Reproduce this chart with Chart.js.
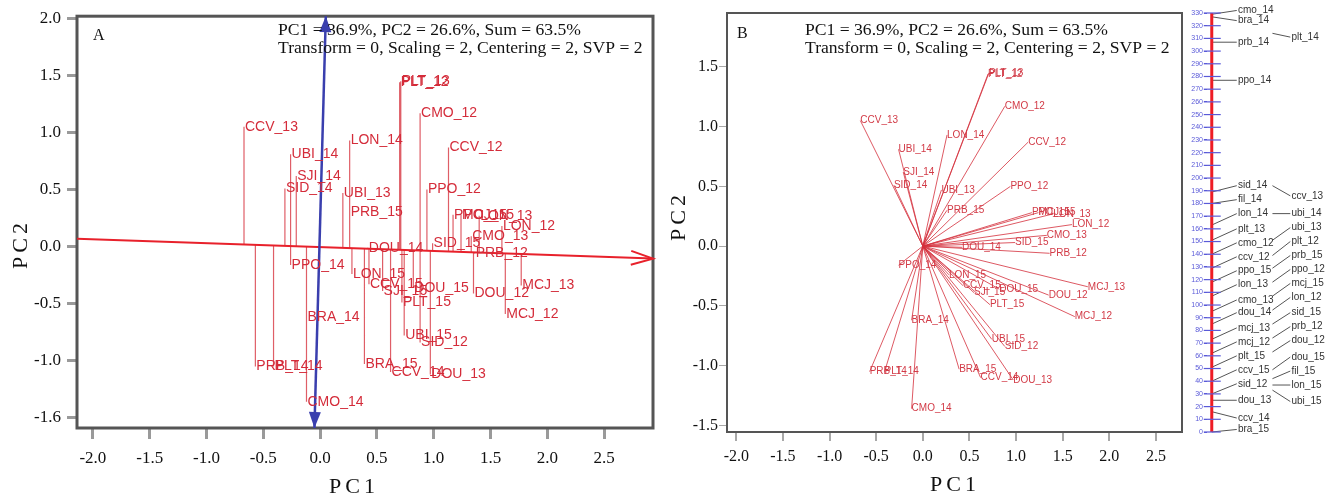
<!DOCTYPE html>
<html>
<head>
<meta charset="utf-8">
<script src="https://cdn.jsdelivr.net/npm/chart.js@4.4.1/dist/chart.umd.min.js"></script>
<style>
  html, body { margin: 0; padding: 0; background: #fff; }
  body { width: 1326px; height: 497px; position: relative; overflow: hidden; }
  canvas { position: absolute; top: 0; }
  #chart-a { left: 0; }
  #chart-b { left: 660px; }
  #chart-tree { left: 1185px; }
</style>
</head>
<body>
<canvas id="chart-a" width="660" height="497"></canvas>
<canvas id="chart-b" width="525" height="497"></canvas>
<canvas id="chart-tree" width="141" height="497"></canvas>
<script>
const sampleNames = [
  'CCV_13', 'UBI_14', 'SJI_14', 'SID_14', 'LON_14', 'UBI_13', 'PRB_15', 'PLT_12', 'PLT_13', 'CMO_12',
  'CCV_12', 'PPO_12', 'PPO_15', 'MCJ_15', 'LON_13', 'LON_12', 'CMO_13', 'SID_15', 'DOU_14', 'PRB_12',
  'MCJ_13', 'DOU_12', 'MCJ_12', 'PPO_14', 'LON_15', 'CCV_15', 'SJI_15', 'DOU_15', 'PLT_15', 'UBI_15',
  'SID_12', 'BRA_14', 'BRA_15', 'CCV_14', 'DOU_13', 'PRB_14', 'PLT_14', 'CMO_14'
];
const pc1Values = [
  -0.67, -0.26, -0.21, -0.31, 0.26, 0.20, 0.26, 0.70, 0.71, 0.88,
  1.13, 0.94, 1.17, 1.24, 1.40, 1.60, 1.33, 0.99, 0.42, 1.36,
  1.77, 1.35, 1.63, -0.26, 0.28, 0.43, 0.55, 0.82, 0.72, 0.74,
  0.88, -0.12, 0.39, 0.62, 0.97, -0.57, -0.41, -0.12
];
const pc2Values = [
  1.05, 0.81, 0.62, 0.51, 0.93, 0.47, 0.30, 1.44, 1.45, 1.17,
  0.87, 0.50, 0.28, 0.28, 0.27, 0.18, 0.09, 0.03, -0.01, -0.06,
  -0.34, -0.41, -0.59, -0.16, -0.24, -0.33, -0.39, -0.36, -0.49, -0.78,
  -0.84, -0.62, -1.03, -1.10, -1.12, -1.05, -1.05, -1.36
];

// Eixos dos vetores do painel A
const redAxisX = [-2.14, 2.93];
const redAxisY = [0.07, -0.105];
const blueAxisX = [-0.05, 0.05];
const blueAxisY = [-1.59, 2.02];

// Rótulos de ticks
const panelAYTickFix = { '-1.5': '-1.6' };

// Dendrograma (valores no eixo 0-330)
const treeLeftNames = ['cmo_14', 'bra_14', 'prb_14', 'ppo_14', 'sid_14', 'fil_14', 'lon_14', 'plt_13', 'cmo_12', 'ccv_12',
  'ppo_15', 'lon_13', 'cmo_13', 'dou_14', 'mcj_13', 'mcj_12', 'plt_15', 'ccv_15', 'sid_12', 'dou_13', 'ccv_14', 'bra_15'];
const treeLeftValues = [332, 324, 307, 277, 194, 183, 172, 160, 149, 138,
  127, 116, 104, 94, 82, 71, 60, 49, 38, 25, 11, 2];
const treeLeftAnchors = [329, 327, 307, 277, 189, 180, 163, 151, 140, 129,
  118, 107, 95, 85, 73, 62, 51, 40, 30, 25, 16, 0];
const treeRightNames = ['plt_14', 'ccv_13', 'ubi_14', 'ubi_13', 'plt_12', 'prb_15', 'ppo_12', 'mcj_15', 'lon_12', 'sid_15',
  'prb_12', 'dou_12', 'dou_15', 'fil_15', 'lon_15', 'ubi_15'];
const treeRightValues = [311, 186, 172, 161, 150, 139, 128, 117, 106, 94, 83, 72, 59, 48, 37, 24];
const treeRightAnchors = [314, 194, 172, 151, 139, 129, 118, 107, 96, 85, 74, 63, 49, 42, 37, 33];

const SERIF = '"Liberation Serif", "Times New Roman", serif';
const SANS = '"Liberation Sans", Arial, sans-serif';

// ---------- plugins ----------
function makeLabelPlugin(id, names, xs, ys, style) {
  return {
    id: id,
    afterDatasetsDraw(chart) {
      const { ctx, scales } = chart;
      ctx.save();
      ctx.font = style.font;
      ctx.fillStyle = style.color;
      ctx.textAlign = 'left';
      ctx.textBaseline = 'middle';
      names.forEach((n, i) => {
        ctx.fillText(n, scales.x.getPixelForValue(xs[i]) + (style.dx || 0),
          scales.y.getPixelForValue(ys[i]) + (style.dy || 0));
      });
      ctx.restore();
    }
  };
}

function makeFramePlugin(style) {
  return {
    id: 'frame',
    beforeDatasetsDraw(chart) {
      const { ctx, chartArea: a } = chart;
      ctx.save();
      ctx.strokeStyle = style.color;
      ctx.lineWidth = style.width;
      ctx.strokeRect(a.left, a.top, a.right - a.left, a.bottom - a.top);
      ctx.restore();
    }
  };
}

function makeTextPlugin(items) {
  return {
    id: 'texts',
    afterDraw(chart) {
      const ctx = chart.ctx;
      items.forEach(t => {
        ctx.save();
        ctx.font = t.font;
        ctx.fillStyle = '#111';
        ctx.letterSpacing = t.spacing || '0px';
        ctx.textAlign = t.align || 'left';
        ctx.textBaseline = 'alphabetic';
        ctx.translate(t.x, t.y);
        if (t.rotate) ctx.rotate(t.rotate);
        ctx.fillText(t.text, 0, 0);
        ctx.restore();
      });
    }
  };
}

const arrowPlugin = {
  id: 'arrowHeads',
  afterDatasetsDraw(chart) {
    const ctx = chart.ctx;
    chart.data.datasets.forEach((ds, i) => {
      if (!ds.arrows) return;
      const pts = chart.getDatasetMeta(i).data;
      ds.arrows.forEach(end => {
        const tip = end === 'end' ? pts[pts.length - 1] : pts[0];
        const from = end === 'end' ? pts[pts.length - 2] : pts[1];
        const ang = Math.atan2(tip.y - from.y, tip.x - from.x);
        const len = ds.arrowLength, half = ds.arrowHalf;
        const bx = tip.x - len * Math.cos(ang), by = tip.y - len * Math.sin(ang);
        const px = -Math.sin(ang) * half, py = Math.cos(ang) * half;
        ctx.save();
        ctx.strokeStyle = ds.borderColor;
        ctx.fillStyle = ds.borderColor;
        ctx.lineWidth = ds.borderWidth;
        ctx.beginPath();
        ctx.moveTo(bx + px, by + py);
        ctx.lineTo(tip.x, tip.y);
        ctx.lineTo(bx - px, by - py);
        if (ds.arrowFilled) { ctx.closePath(); ctx.fill(); } else { ctx.stroke(); }
        ctx.restore();
      });
    });
  }
};

function axisYAt(x) {
  return redAxisY[0] + (x - redAxisX[0]) * (redAxisY[1] - redAxisY[0]) / (redAxisX[1] - redAxisX[0]);
}

function segments(pairs) {
  const out = [];
  pairs.forEach(p => {
    out.push({ x: p[0], y: p[1] });
    out.push({ x: p[2], y: p[3] });
    out.push({ x: p[2], y: null });
  });
  return out;
}

function fmtTick(v) { return (Math.round(v * 10) / 10).toFixed(1); }

// ---------- Painel A ----------
const projA = segments(sampleNames.map((n, i) => [pc1Values[i], pc2Values[i], pc1Values[i], axisYAt(pc1Values[i])]));

new Chart(document.getElementById('chart-a'), {
  type: 'scatter',
  data: {
    datasets: [
      { data: projA, showLine: true, spanGaps: false, pointRadius: 0, borderColor: 'rgba(212,40,52,0.75)', borderWidth: 1.2, order: 3 },
      { data: redAxisX.map((x, i) => ({ x: x, y: redAxisY[i] })), showLine: true, pointRadius: 0,
        borderColor: '#e8212b', borderWidth: 2, order: 2, clip: false,
        arrows: ['end'], arrowLength: 22, arrowHalf: 7, arrowFilled: false },
      { data: blueAxisX.map((x, i) => ({ x: x, y: blueAxisY[i] })), showLine: true, pointRadius: 0,
        borderColor: '#3a3fae', borderWidth: 2.5, order: 1, clip: false,
        arrows: ['start', 'end'], arrowLength: 16, arrowHalf: 6, arrowFilled: true }
    ]
  },
  options: {
    responsive: false,
    animation: false,
    layout: { padding: { left: 0, right: 7, top: 15, bottom: 0 } },
    plugins: { legend: { display: false }, tooltip: { enabled: false } },
    scales: {
      x: {
        type: 'linear', min: -2.14, max: 2.93,
        ticks: { stepSize: 0.5, includeBounds: false, callback: fmtTick, color: '#111', font: { family: SERIF, size: 17 }, padding: 9, maxRotation: 0 },
        grid: { drawOnChartArea: false, drawTicks: true, tickLength: 11, color: '#9a9a9a', lineWidth: 3 },
        border: { display: false },
        afterFit: s => { s.height = 69; }
      },
      y: {
        type: 'linear', min: -1.59, max: 2.02,
        ticks: { stepSize: 0.5, includeBounds: false, color: '#111', font: { family: SERIF, size: 17 }, padding: 6,
          callback: v => panelAYTickFix[fmtTick(v)] || fmtTick(v) },
        grid: { drawOnChartArea: false, drawTicks: true, tickLength: 10, color: '#9a9a9a', lineWidth: 3 },
        border: { display: false },
        afterFit: s => { s.width = 77; }
      }
    }
  },
  plugins: [
    makeFramePlugin({ color: '#555', width: 3 }),
    arrowPlugin,
    makeLabelPlugin('labelsA', sampleNames, pc1Values, pc2Values, { font: '14px ' + SANS, color: '#d42c3a', dx: 1, dy: 0 }),
    makeTextPlugin([
      { text: 'A', x: 93, y: 40, font: '16px ' + SERIF },
      { text: 'PC1 = 36.9%, PC2 = 26.6%, Sum = 63.5%', x: 278, y: 35, font: '17.6px ' + SERIF },
      { text: 'Transform = 0, Scaling = 2, Centering = 2, SVP = 2', x: 278, y: 53, font: '17.6px ' + SERIF },
      { text: 'PC1', x: 354, y: 493, font: '22px ' + SERIF, align: 'center', spacing: '4px' },
      { text: 'PC2', x: 27, y: 244, font: '22px ' + SERIF, align: 'center', spacing: '4px', rotate: -Math.PI / 2 }
    ])
  ]
});

// ---------- Painel B ----------
const vecB = segments(sampleNames.map((n, i) => [0, 0, pc1Values[i], pc2Values[i]]));

new Chart(document.getElementById('chart-b'), {
  type: 'scatter',
  data: {
    datasets: [
      { data: vecB, showLine: true, spanGaps: false, pointRadius: 0, borderColor: 'rgba(212,48,60,0.8)', borderWidth: 1 }
    ]
  },
  options: {
    responsive: false,
    animation: false,
    layout: { padding: { left: 0, right: 3, top: 13, bottom: 0 } },
    plugins: { legend: { display: false }, tooltip: { enabled: false } },
    scales: {
      x: {
        type: 'linear', min: -2.1, max: 2.78,
        ticks: { stepSize: 0.5, includeBounds: false, callback: fmtTick, color: '#111', font: { family: SERIF, size: 16 }, padding: 6, maxRotation: 0 },
        grid: { drawOnChartArea: false, drawTicks: true, tickLength: 9, color: '#a8a8a8', lineWidth: 2 },
        border: { display: false },
        afterFit: s => { s.height = 65; }
      },
      y: {
        type: 'linear', min: -1.555, max: 1.95,
        ticks: { stepSize: 0.5, includeBounds: false, callback: fmtTick, color: '#111', font: { family: SERIF, size: 16 }, padding: 1 },
        grid: { drawOnChartArea: false, drawTicks: true, tickLength: 8, color: '#a8a8a8', lineWidth: 1 },
        border: { display: false },
        afterFit: s => { s.width = 67; }
      }
    }
  },
  plugins: [
    makeFramePlugin({ color: '#555', width: 2 }),
    makeLabelPlugin('labelsB', sampleNames, pc1Values, pc2Values, { font: '10px ' + SANS, color: '#d23a46', dx: 0, dy: 0 }),
    makeTextPlugin([
      { text: 'B', x: 77, y: 38, font: '16px ' + SERIF },
      { text: 'PC1 = 36.9%, PC2 = 26.6%, Sum = 63.5%', x: 145, y: 35, font: '17.6px ' + SERIF },
      { text: 'Transform = 0, Scaling = 2, Centering = 2, SVP = 2', x: 145, y: 53, font: '17.6px ' + SERIF },
      { text: 'PC1', x: 295, y: 491, font: '22px ' + SERIF, align: 'center', spacing: '4px' },
      { text: 'PC2', x: 25, y: 216, font: '22px ' + SERIF, align: 'center', spacing: '4px', rotate: -Math.PI / 2 }
    ])
  ]
});

// ---------- Dendrograma ----------
const TREE_LINE_X = 0.04;
const treeConnectors = segments(
  treeLeftNames.map((n, i) => [TREE_LINE_X, treeLeftAnchors[i], 0.25, treeLeftValues[i]])
    .concat(treeRightNames.map((n, i) => [0.55, treeRightAnchors[i], 0.70, treeRightValues[i]]))
);

const treeTickPlugin = {
  id: 'treeTicks',
  afterDatasetsDraw(chart) {
    const { ctx, scales } = chart;
    const cx = scales.x.getPixelForValue(TREE_LINE_X);
    ctx.save();
    ctx.strokeStyle = '#5a5ad8';
    ctx.lineWidth = 1.2;
    scales.y.ticks.forEach(t => {
      const py = scales.y.getPixelForValue(t.value);
      ctx.beginPath();
      ctx.moveTo(cx - 8, py);
      ctx.lineTo(cx + 9, py);
      ctx.stroke();
    });
    ctx.restore();
  }
};

new Chart(document.getElementById('chart-tree'), {
  type: 'scatter',
  data: {
    datasets: [
      { data: treeConnectors, showLine: true, spanGaps: false, pointRadius: 0, borderColor: '#555', borderWidth: 1, clip: false, order: 2 },
      { data: [{ x: TREE_LINE_X, y: 0 }, { x: TREE_LINE_X, y: 330 }], showLine: true, pointRadius: 0, borderColor: '#ee1c25', borderWidth: 3, order: 1 }
    ]
  },
  options: {
    responsive: false,
    animation: false,
    layout: { padding: { left: 0, right: 0, top: 13, bottom: 65 } },
    plugins: { legend: { display: false }, tooltip: { enabled: false } },
    scales: {
      x: { type: 'linear', min: 0, max: 1, display: false },
      y: {
        type: 'linear', min: 0, max: 330,
        ticks: { stepSize: 10, color: '#5a5ad8', font: { family: SANS, size: 7 }, padding: 1 },
        grid: { drawOnChartArea: false, drawTicks: true, tickLength: 3, color: '#5a5ad8' },
        border: { display: false },
        afterFit: s => { s.width = 22; }
      }
    }
  },
  plugins: [
    treeTickPlugin,
    makeLabelPlugin('treeLeft', treeLeftNames, treeLeftNames.map(() => 0.26), treeLeftValues, { font: '10px ' + SANS, color: '#333', dx: 0, dy: 0 }),
    makeLabelPlugin('treeRight', treeRightNames, treeRightNames.map(() => 0.71), treeRightValues, { font: '10px ' + SANS, color: '#333', dx: 0, dy: 0 })
  ]
});
</script>
</body>
</html>
